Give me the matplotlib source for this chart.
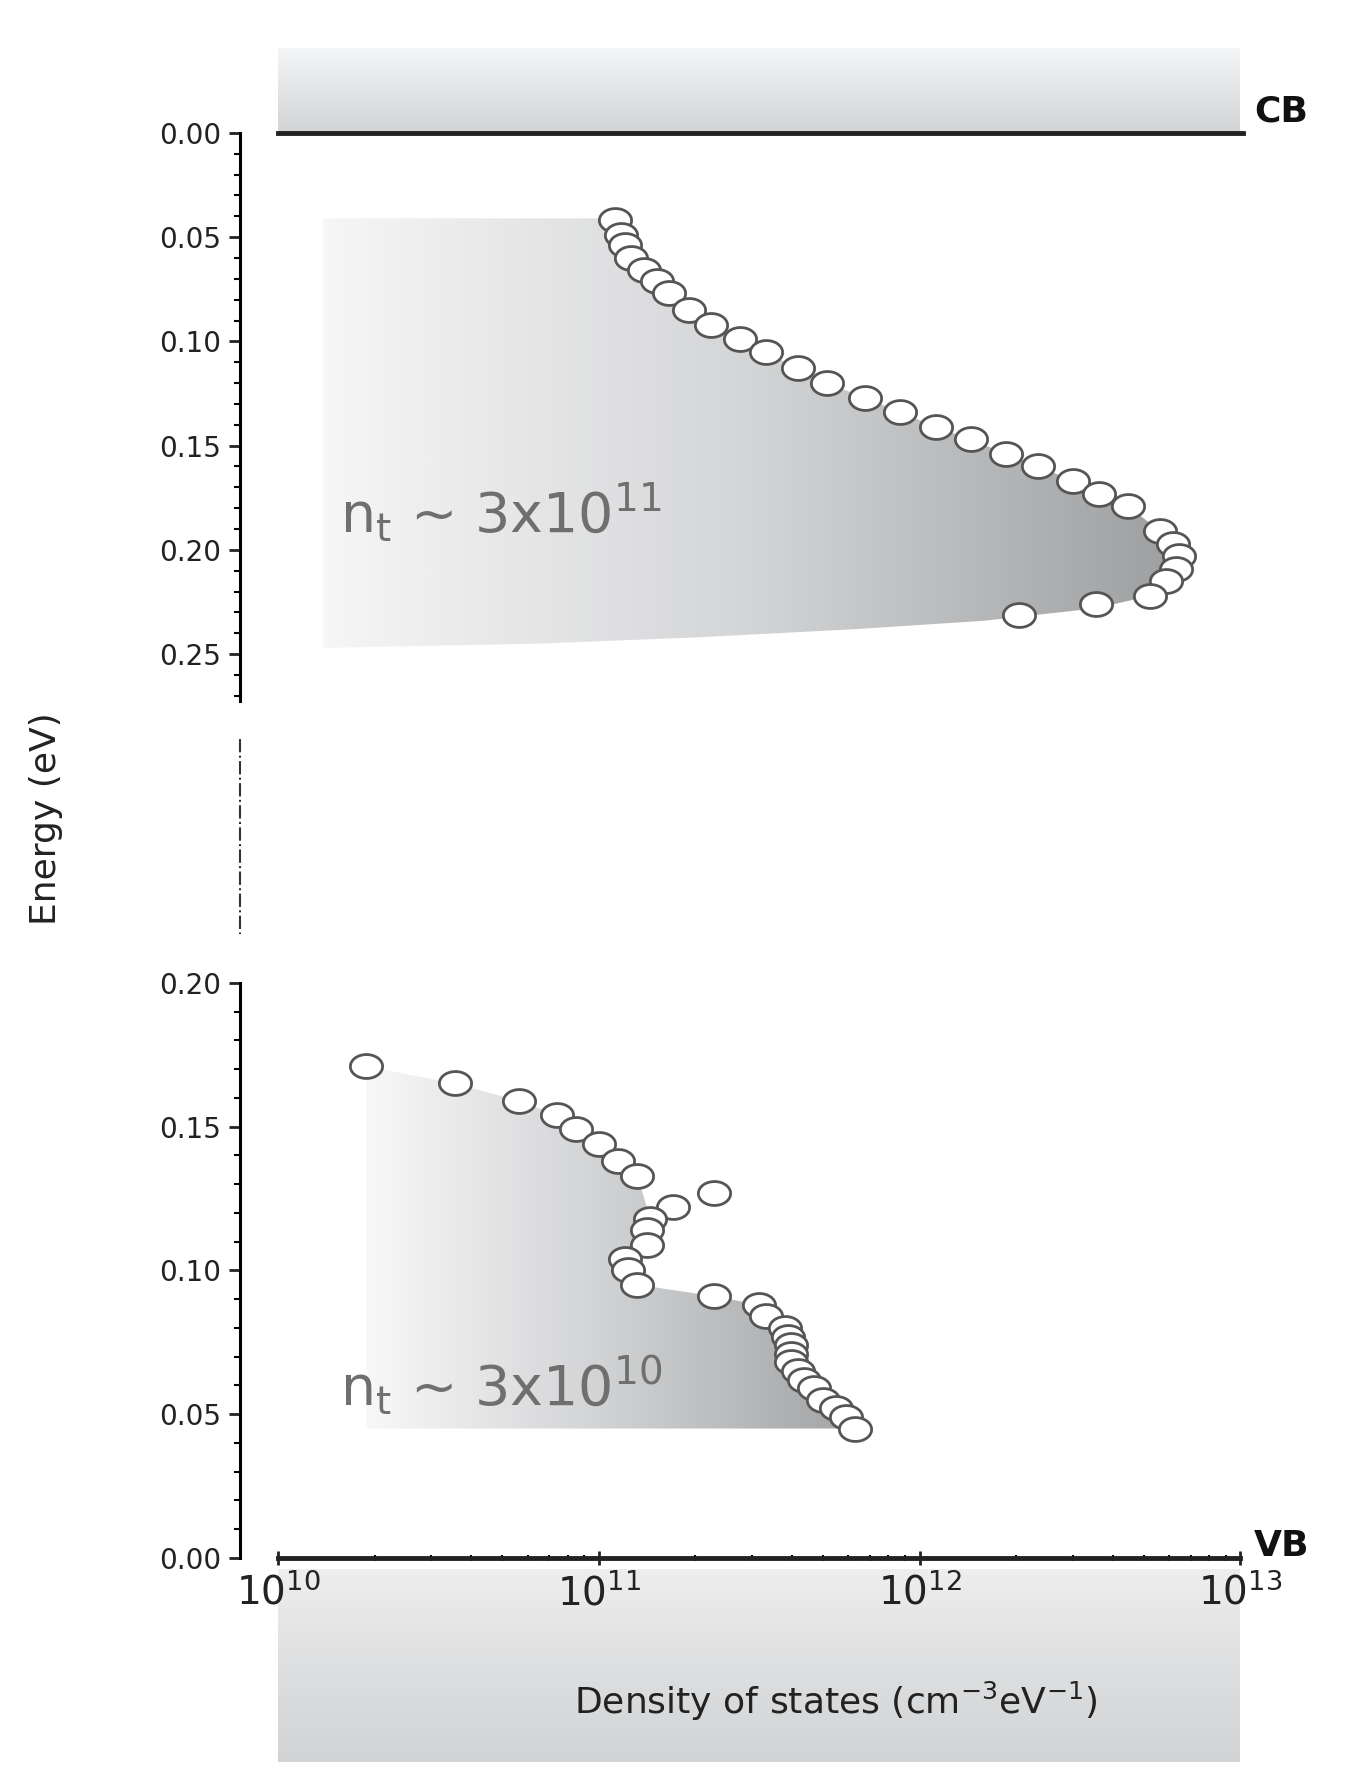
import numpy as np
import matplotlib
matplotlib.use("Agg")
import matplotlib.pyplot as plt
from matplotlib.path import Path
from matplotlib.patches import Polygon
from matplotlib.lines import Line2D
from matplotlib.colors import LinearSegmentedColormap
from matplotlib.ticker import FixedLocator, NullFormatter

# ---- data (log10 of DOS, energy in eV) ----
up_logx = [11.05, 11.07, 11.08, 11.10, 11.14, 11.18, 11.22, 11.28, 11.35, 11.44, 11.52, 11.62, 11.71,
           11.83, 11.94, 12.05, 12.16, 12.27, 12.37, 12.48, 12.56, 12.65, 12.75, 12.79, 12.81, 12.80,
           12.77, 12.72, 12.55, 12.31]
up_E = [0.042, 0.049, 0.054, 0.060, 0.066, 0.071, 0.077, 0.085, 0.092, 0.099, 0.105, 0.113, 0.120,
        0.127, 0.134, 0.141, 0.147, 0.154, 0.160, 0.167, 0.173, 0.179, 0.191, 0.197, 0.203, 0.209,
        0.215, 0.222, 0.226, 0.231]
lo_logx = [10.275, 10.55, 10.75, 10.87, 10.93, 11.00, 11.06, 11.12, 11.23, 11.36, 11.16, 11.15, 11.15,
           11.08, 11.09, 11.12, 11.36, 11.50, 11.52, 11.58, 11.59, 11.60, 11.60, 11.60, 11.62, 11.64,
           11.67, 11.70, 11.74, 11.77, 11.80]
lo_E = [0.171, 0.165, 0.159, 0.154, 0.149, 0.144, 0.138, 0.133, 0.122, 0.127, 0.118, 0.114, 0.109,
        0.104, 0.100, 0.095, 0.091, 0.088, 0.084, 0.080, 0.077, 0.074, 0.071, 0.068, 0.065, 0.062,
        0.059, 0.055, 0.052, 0.049, 0.045]
up_fill_left = 10.14
up_fill_top = 0.041
up_fill_bottom_logx = [12.55, 12.2, 11.8, 11.3, 10.8, 10.14]
up_fill_bottom_E = [0.228, 0.234, 0.238, 0.242, 0.245, 0.247]
lo_fill_left = 10.275
lo_fill_bottom = 0.045
up_label = r"n$_\mathrm{t}$ ~ 3x10$^{11}$"
lo_label = r"n$_\mathrm{t}$ ~ 3x10$^{10}$"

plt.rcParams['font.family'] = ['DejaVu Sans']
W, H = 1185, 1553
fig = plt.figure(figsize=(13.57, 17.79), dpi=100)

def fx(px): return px / W
def fy(py): return 1 - py / H

lxlo = 10 - 33 / 280
xlo = 10 ** lxlo
xl, xr = fx(210), fx(1083)

def band(y0, y1, cmapcols):
    bax = fig.add_axes([fx(243), fy(y1), fx(1083) - fx(243), fy(y0) - fy(y1)], zorder=0)
    cm = LinearSegmentedColormap.from_list("b", cmapcols)
    bax.imshow(np.linspace(0, 1, 100)[:, None], aspect='auto', cmap=cm, extent=[0, 1, 1, 0])
    bax.axis('off')

band(42, 116, ['#f4f5f6', '#d3d4d6'])
band(1370, 1538, ['#eeeeef', '#dedfe0', '#d2d3d4'])

tick_fs = 20
pos1 = [xl, fy(612), xr - xl, fy(116) - fy(612)]
pos2 = [xl, fy(1360), xr - xl, fy(858) - fy(1360)]

def grad_layer(pos, ylim, xs_log, ys, x0, x1, cols):
    g = fig.add_axes(pos, zorder=1)
    g.set_xlim(lxlo, 13)
    g.set_ylim(*ylim)
    g.axis('off')
    poly = Polygon(np.column_stack([xs_log, ys]), closed=True, facecolor='none', edgecolor='none')
    g.add_patch(poly)
    cm = LinearSegmentedColormap.from_list("g", cols)
    im = g.imshow(np.linspace(0, 1, 256)[None, :], aspect='auto', cmap=cm,
                  extent=[x0, x1, max(ys), min(ys)] if ylim[0] > ylim[1] else [x0, x1, min(ys), max(ys)],
                  interpolation='bilinear')
    im.set_clip_path(poly)
    g.set_xlim(lxlo, 13)
    g.set_ylim(*ylim)

# upper region
uxs = [up_fill_left, up_logx[0]] + up_logx[:28] + up_fill_bottom_logx
uys = [up_fill_top, up_fill_top] + up_E[:28] + up_fill_bottom_E
grad_layer(pos1, (0.2725, 0), uxs, uys, up_fill_left, 12.85, ['#f6f6f6', '#d3d4d6', '#9c9d9f'])

# lower region
order = [0, 1, 2, 3, 4, 5, 6, 7, 10, 11, 12, 13, 14, 15, 16, 17, 18, 19, 20, 21, 22, 23, 24, 25, 26, 27, 28, 29, 30]
lxs = [lo_fill_left] + [lo_logx[i] for i in order] + [lo_fill_left]
lys = [lo_E[0]] + [lo_E[i] for i in order] + [lo_fill_bottom]
lys[-2] = lo_fill_bottom
grad_layer(pos2, (0, 0.2), lxs, lys, lo_fill_left, 11.8, ['#f8f8f8', '#d0d1d3', '#a3a4a6'])

ax1 = fig.add_axes(pos1, zorder=2)
ax2 = fig.add_axes(pos2, zorder=2)
for ax in (ax1, ax2):
    ax.set_facecolor('none')
    ax.set_xscale('log')
    ax.set_xlim(xlo, 1e13)
    for s in ('top', 'right', 'bottom'):
        ax.spines[s].set_visible(False)
    ax.spines['left'].set_linewidth(2.2)
    ax.tick_params(axis='y', which='major', length=8, width=2, labelsize=tick_fs, colors='#222', pad=6)
    ax.tick_params(axis='y', which='minor', length=4, width=1.5)

ax1.set_ylim(0.2725, 0)
ax1.yaxis.set_major_locator(FixedLocator([0, 0.05, 0.10, 0.15, 0.20, 0.25]))
ax1.yaxis.set_minor_locator(FixedLocator(np.arange(0, 0.271, 0.01)))
ax1.set_yticklabels(["0.00", "0.05", "0.10", "0.15", "0.20", "0.25"])
ax1.tick_params(axis='x', which='both', bottom=False, labelbottom=False)

ax2.set_ylim(0, 0.2)
ax2.yaxis.set_major_locator(FixedLocator([0, 0.05, 0.10, 0.15, 0.20]))
ax2.yaxis.set_minor_locator(FixedLocator(np.arange(0, 0.201, 0.01)))
ax2.set_yticklabels(["0.00", "0.05", "0.10", "0.15", "0.20"])
ax2.xaxis.set_major_locator(FixedLocator([1e10, 1e11, 1e12, 1e13]))
ax2.xaxis.set_minor_locator(FixedLocator([m * 10.0 ** d for d in (10, 11, 12) for m in range(2, 10)]))
ax2.xaxis.set_minor_formatter(NullFormatter())
ax2.set_xticklabels([r"10$^{10}$", r"10$^{11}$", r"10$^{12}$", r"10$^{13}$"])
ax2.tick_params(axis='x', which='major', direction='inout', length=10, width=2, labelsize=28,
                colors='#222', pad=6)
ax2.tick_params(axis='x', which='minor', direction='inout', length=5, width=1.5)

ax1.plot([1e10, 1.02e13], [0, 0], color='#222', lw=3.5, clip_on=False, zorder=5)
ax2.plot([1e10, 1e13], [0, 0], color='#222', lw=3.5, clip_on=False, zorder=5)
fig.text(fx(1095), fy(97), "CB", fontsize=26, fontweight='bold', va='center', color='#111')
fig.text(fx(1095), fy(1350), "VB", fontsize=26, fontweight='bold', va='center', color='#111')

t = np.linspace(0, 2 * np.pi, 60)
ell = Path(np.column_stack([1.35 * np.cos(t), np.sin(t)]))
for ax, lx, E in ((ax1, up_logx, up_E), (ax2, lo_logx, lo_E)):
    ax.scatter([10 ** v for v in lx], E, marker=ell, s=540, facecolor='white',
               edgecolor='#555555', linewidths=2, zorder=4)

ax1.text(10 ** (10 + (297 - 243) / 280), 0.182, up_label, fontsize=40, color='#6f6f6f', va='center', zorder=3)
ax2.text(10 ** (10 + (297 - 243) / 280), 0.060, lo_label, fontsize=40, color='#6f6f6f', va='center', zorder=3)

fig.add_artist(Line2D([fx(210), fx(210)], [fy(645), fy(815)], color='#333', lw=1.5, ls='-.'))
fig.text(fx(40), fy(715), "Energy (eV)", rotation=90, fontsize=26, va='center', ha='center', color='#222')
fig.text(fx(730), fy(1485), r"Density of states (cm$^{-3}$eV$^{-1}$)", fontsize=26, va='center',
         ha='center', color='#222', zorder=3)

fig.savefig("out.png", dpi=100)
